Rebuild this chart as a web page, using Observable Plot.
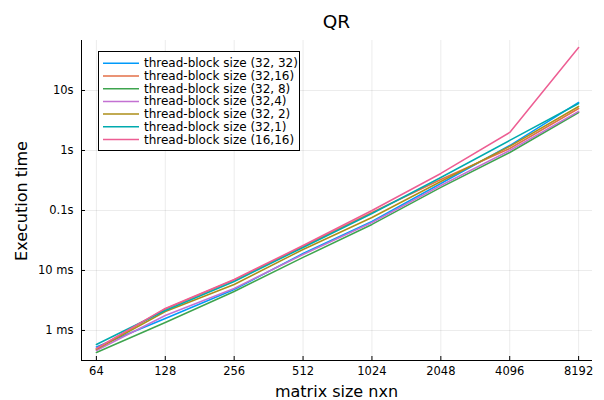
<!DOCTYPE html>
<html>
<head>
<meta charset="utf-8">
<script src="https://cdn.jsdelivr.net/npm/d3@7"></script>
<script src="https://cdn.jsdelivr.net/npm/@observablehq/plot@0.6"></script>
<style>
  html, body { margin: 0; padding: 0; background: #fff; }
  #chart svg { display: block; }
</style>
</head>
<body>
<div id="chart"></div>
<script>
// matrix sizes (n x n)
const sizes = [64, 128, 256, 512, 1024, 2048, 4096, 8192];
// execution times in seconds
const t32x32 = [0.000531, 0.00158, 0.00482, 0.0192, 0.0656, 0.282, 1.21, 6.31];
const t32x16 = [0.000492, 0.00228, 0.00695, 0.0251, 0.0926, 0.329, 1.08, 5.01];
const t32x8  = [0.000430, 0.00136, 0.00447, 0.0165, 0.0585, 0.242, 0.926, 4.30];
const t32x4  = [0.000464, 0.00178, 0.00501, 0.0185, 0.0631, 0.261, 1.00, 4.47];
const t32x2  = [0.000483, 0.00207, 0.00584, 0.0224, 0.0764, 0.304, 1.17, 5.41];
const t32x1  = [0.000584, 0.00215, 0.00656, 0.0242, 0.0891, 0.355, 1.47, 6.07];
const t16x16 = [0.000501, 0.00233, 0.00708, 0.0261, 0.100, 0.414, 2.00, 52.1];

const seriesNames = [
  "thread-block size (32, 32)",
  "thread-block size (32,16)",
  "thread-block size (32, 8)",
  "thread-block size (32,4)",
  "thread-block size (32, 2)",
  "thread-block size (32,1)",
  "thread-block size (16,16)"
];
const seriesValues = [t32x32, t32x16, t32x8, t32x4, t32x2, t32x1, t16x16];
const colors = ["#009AFA", "#E36F47", "#3EA44E", "#C371D2", "#AC8E18", "#00AAAE", "#ED5E93"];

const yTicks = [0.001, 0.01, 0.1, 1, 10];
const yTickLabels = ["1 ms", "10 ms", "0.1s", "1s", "10s"];

const data = [];
seriesNames.forEach((name, i) => {
  sizes.forEach((n, j) => data.push({series: name, n, t: seriesValues[i][j]}));
});

const font = "DejaVu Sans, sans-serif";
const xDomain = [55.1, 9420];
const yDomain = [0.000316, 68.1];

const chart = Plot.plot({
  width: 604,
  height: 400,
  marginLeft: 81,
  marginRight: 12,
  marginTop: 40,
  marginBottom: 40,
  style: {fontFamily: font, fontSize: "11.5px", color: "#000", background: "#fff"},
  x: {type: "log", domain: xDomain, base: 2},
  y: {type: "log", domain: yDomain},
  color: {domain: seriesNames, range: colors},
  marks: [
    Plot.gridX(sizes, {stroke: "#000", strokeOpacity: 0.08, strokeWidth: 1}),
    Plot.gridY(yTicks, {stroke: "#000", strokeOpacity: 0.08, strokeWidth: 1}),
    Plot.axisX(sizes, {tickSize: -4, tickPadding: 10, tickFormat: d => String(d), label: null, fontSize: 11.5}),
    Plot.axisY(yTicks, {tickSize: -4, tickPadding: 12, tickFormat: (d) => yTickLabels[yTicks.indexOf(d)], label: null, fontSize: 11.5}),
    Plot.ruleX([xDomain[0]], {stroke: "#000", strokeWidth: 1}),
    Plot.ruleY([yDomain[0]], {stroke: "#000", strokeWidth: 1}),
    Plot.line(data, {x: "n", y: "t", z: "series", stroke: "series", strokeWidth: 1.5})
  ]
});

const svg = d3.select(chart);
// title
svg.append("text").attr("x", 336.5).attr("y", 21).attr("text-anchor", "middle")
  .attr("dominant-baseline", "central").attr("font-family", font).attr("font-size", 18.5).text("QR");
// x label
svg.append("text").attr("x", 336.5).attr("y", 391).attr("text-anchor", "middle")
  .attr("dominant-baseline", "central").attr("font-family", font).attr("font-size", 16).text("matrix size nxn");
// y label
svg.append("text").attr("transform", "translate(21,201) rotate(-90)").attr("text-anchor", "middle")
  .attr("dominant-baseline", "central").attr("font-family", font).attr("font-size", 16).text("Execution time");

// legend
const lg = svg.append("g").attr("text-anchor", "start");
lg.append("rect").attr("x", 98.5).attr("y", 51.5).attr("width", 201).attr("height", 99)
  .attr("fill", "#fff").attr("stroke", "#000").attr("stroke-width", 1);
seriesNames.forEach((name, i) => {
  const y = 63.3 + i * 12.7;
  lg.append("line").attr("x1", 103).attr("x2", 139).attr("y1", y).attr("y2", y)
    .attr("stroke", colors[i]).attr("stroke-width", 1.5);
  lg.append("text").attr("x", 144).attr("y", y).attr("dominant-baseline", "central")
    .attr("text-anchor", "start")
    .attr("font-family", font).attr("font-size", 12).text(name);
});

document.getElementById("chart").appendChild(chart);
</script>
</body>
</html>
